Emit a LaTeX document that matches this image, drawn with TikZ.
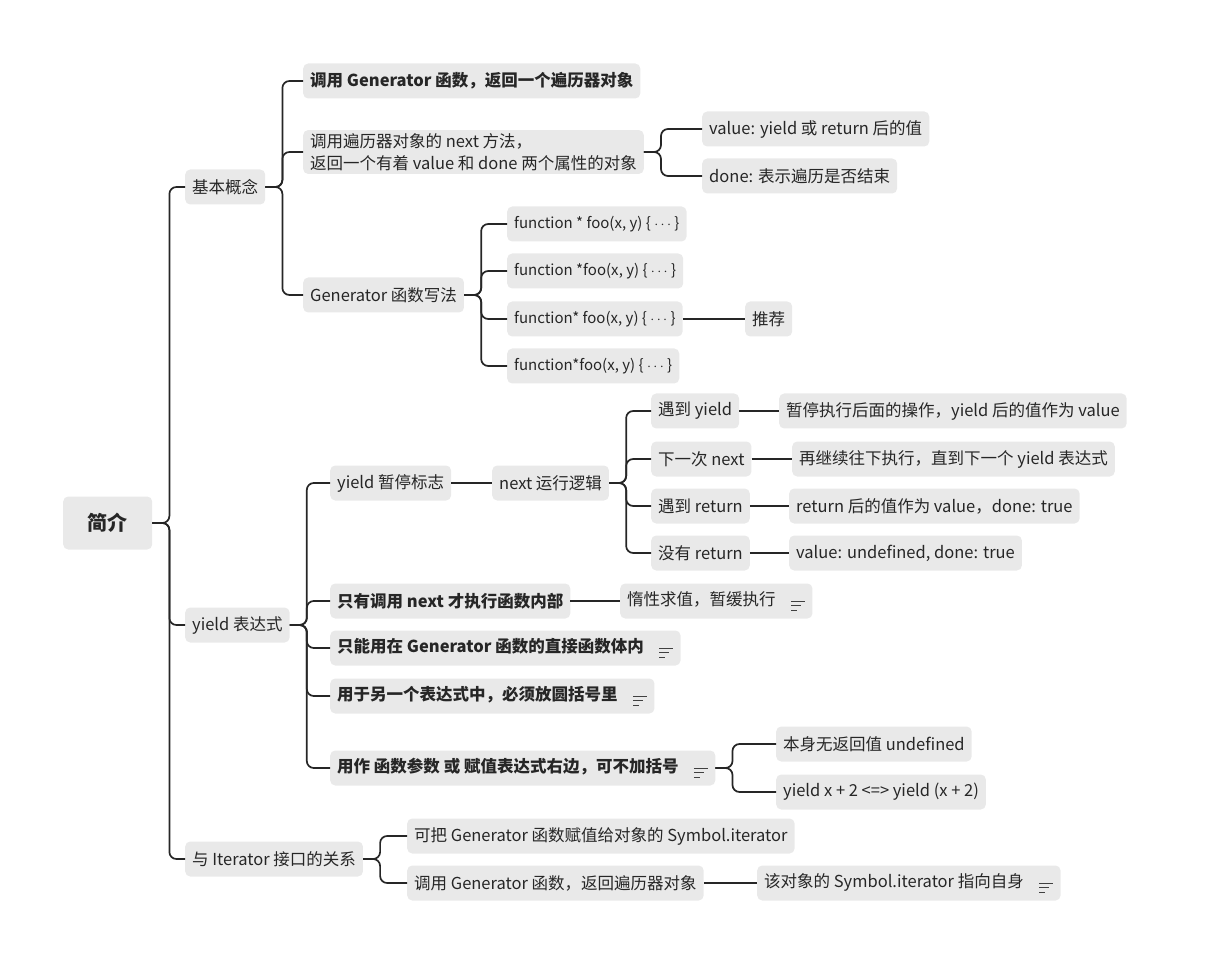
\documentclass[tikz,border=0pt]{standalone}
\usepackage{fontspec}
\setmainfont{Noto Sans CJK SC}
\tikzset{
  box/.style={fill=gray!17, rounded corners=5pt, anchor=west, inner xsep=7pt,
    minimum height=35pt, font=\fontsize{16.5}{20}\selectfont, text=black!85},
  code/.style={box, font=\fontsize{15}{18}\selectfont},
  strong/.style={box, font=\fontsize{16.5}{20}\selectfont\bfseries},
  root/.style={box, minimum height=53pt, minimum width=89pt, inner xsep=0pt,
    align=center, font=\fontsize{20}{24}\selectfont\bfseries},
  link/.style={draw=black!85, line width=1.7pt, rounded corners=7pt},
}
\newcommand{\noteicon}{\hspace{0.9em}\tikz[baseline=-4.5pt]{
  \draw[line width=0.9pt, black!75] (0,0) -- (14pt,0) (0,-4.5pt) -- (10pt,-4.5pt) (0,-9pt) -- (6pt,-9pt);}}
\newcommand{\dotsc}{$\cdots$}
\begin{document}
\begin{tikzpicture}[x=1pt, y=-1pt]
  \useasboundingbox (0,0) rectangle (1213,965);

  % root and main branches
  \node[root] (intro) at (63,523) {简介};
  \node[box] (basic) at (185,187) {基本概念};
  \node[box] (yexpr) at (185,625) {yield 表达式};
  \node[box] (iter) at (185,859) {与 Iterator 接口的关系};

  % basic concepts
  \node[strong] (call) at (303,81) {调用 Generator 函数，返回一个遍历器对象};
  \node[box, align=left, font=\fontsize{16.5}{22}\selectfont] (next) at (303,152) {调用遍历器对象的 next 方法，\\返回一个有着 value 和 done 两个属性的对象};
  \node[box] (write) at (303,295) {Generator 函数写法};
  \node[box] (value) at (702,129) {value: yield 或 return 后的值};
  \node[box] (done) at (702,176) {done: 表示遍历是否结束};
  \node[code] (fa) at (507,224) {function * foo(x, y) \{ \dotsc\ \}};
  \node[code] (fb) at (507,271) {function *foo(x, y) \{ \dotsc\ \}};
  \node[code] (fc) at (507,319) {function* foo(x, y) \{ \dotsc\ \}};
  \node[code] (fd) at (507,366) {function*foo(x, y) \{ \dotsc\ \}};
  \node[box] (rec) at (745,319) {推荐};

  % yield expression
  \node[box] (pause) at (330,483) {yield 暂停标志};
  \node[box] (logic) at (492,483) {next 运行逻辑};
  \node[box] (ly) at (651,411) {遇到 yield};
  \node[box] (ln) at (651,459) {下一次 next};
  \node[box] (lr) at (651,506) {遇到 return};
  \node[box] (lo) at (651,553) {没有 return};
  \node[box] (ry) at (779,411) {暂停执行后面的操作，yield 后的值作为 value};
  \node[box] (rn) at (792,459) {再继续往下执行，直到下一个 yield 表达式};
  \node[box] (rr) at (789,506) {return 后的值作为 value，done: true};
  \node[box] (ro) at (789,553) {value: undefined, done: true};
  \node[strong] (lazy) at (330,601) {只有调用 next 才执行函数内部};
  \node[box] (lazyr) at (620,601) {惰性求值，暂缓执行\noteicon};
  \node[strong] (only) at (330,648) {只能用在 Generator 函数的直接函数体内\noteicon};
  \node[strong] (paren) at (330,696) {用于另一个表达式中，必须放圆括号里\noteicon};
  \node[strong] (arg) at (330,768) {用作 函数参数 或 赋值表达式右边，可不加括号\noteicon};
  \node[box] (undef) at (776,744) {本身无返回值 undefined};
  \node[box] (same) at (776,792) {yield x + 2 <=> yield (x + 2)};

  % iterator
  \node[box] (assign) at (407,836) {可把 Generator 函数赋值给对象的 Symbol.iterator};
  \node[box] (ret) at (407,883) {调用 Generator 函数，返回遍历器对象};
  \node[box] (self) at (757,883) {该对象的 Symbol.iterator 指向自身\noteicon};

  % connectors with several children
  \foreach \p/\c in {intro/basic, intro/yexpr, intro/iter,
      basic/call, basic/next, basic/write, next/value, next/done,
      write/fa, write/fb, write/fc, write/fd,
      yexpr/pause, yexpr/lazy, yexpr/only, yexpr/paren, yexpr/arg,
      logic/ly, logic/ln, logic/lr, logic/lo,
      arg/undef, arg/same, iter/assign, iter/ret}
    \draw[link] (\p.east) -- ++(17,0) |- (\c.west);
  % single children
  \foreach \p/\c in {fc/rec, pause/logic, ly/ry, ln/rn, lr/rr, lo/ro,
      lazy/lazyr, ret/self}
    \draw[link] (\p.east) -- (\c.west);
\end{tikzpicture}
\end{document}
